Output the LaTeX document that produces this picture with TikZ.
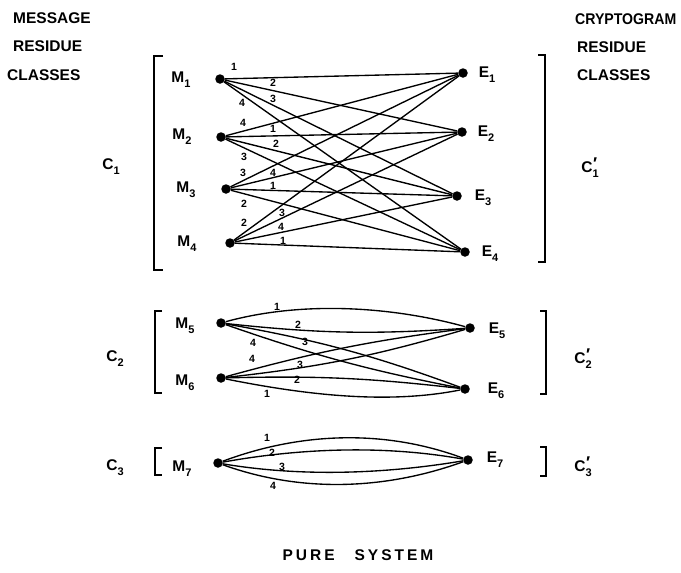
\documentclass[tikz,border=0pt]{standalone}
\usepackage{fontspec}
\setmainfont{Liberation Sans}
\newcommand\sbx[1]{\raisebox{-0.6ex}{\fontsize{11}{11}\selectfont #1}}
\newcommand\prm{\makebox[0pt][l]{\raisebox{0.35ex}{\fontsize{17}{17}\selectfont\kern0.5pt ′}}}
\newcommand\ls{\kern3pt}
\begin{document}
\begin{tikzpicture}[x=1pt,y=1pt,
  dot/.style={circle,fill=black,inner sep=0pt,minimum size=9.5pt},
  lbl/.style={font=\fontsize{15.5}{15.5}\selectfont\bfseries,inner sep=0pt},
  num/.style={font=\fontsize{10.5}{10.5}\selectfont\bfseries,inner sep=0pt},
  link/.style={line width=1.35pt},
  brk/.style={line width=1.4pt}]
\useasboundingbox (0,0) rectangle (681,-573);
% titles
\node[lbl,anchor=west] (t1) at (13,-18.5) {MESSAGE};
\node[lbl,anchor=west] (t2) at (13,-46.5) {RESIDUE};
\node[lbl,anchor=west] (t3) at (7,-75) {CLASSES};
\node[lbl,anchor=west] (t4) at (575,-19) {\scalebox{0.91}[1]{CRYPTOGRAM}};
\node[lbl,anchor=west] (t5) at (577,-47) {RESIDUE};
\node[lbl,anchor=west] (t6) at (577,-75) {CLASSES};
\node[lbl] (ttl) at (358,-555) {P\ls U\ls R\ls E\hspace{20pt}S\ls Y\ls S\ls T\ls E\ls M};
% class labels
\node[lbl] (c1) at (111,-167) {C\sbx{1}};
\node[lbl] (c2) at (115,-359) {C\sbx{2}};
\node[lbl] (c3) at (115,-468) {C\sbx{3}};
\node[lbl] (c1p) at (590,-168) {C\prm\sbx{1}};
\node[lbl] (c2p) at (583,-359) {C\prm\sbx{2}};
\node[lbl] (c3p) at (583,-467) {C\prm\sbx{3}};
% brackets
\draw[brk] (163,-56) -- (154,-56) -- (154,-270) -- (163,-270);
\draw[brk] (538,-55) -- (545,-55) -- (545,-262) -- (538,-262);
\draw[brk] (162,-311) -- (155,-311) -- (155,-393) -- (162,-393);
\draw[brk] (540,-311) -- (546,-311) -- (546,-394) -- (540,-394);
\draw[brk] (162,-448) -- (155,-448) -- (155,-475) -- (162,-475);
\draw[brk] (540,-447) -- (546,-447) -- (546,-476) -- (540,-476);
% dots
\node[dot] (M1) at (220,-79) {};
\node[dot] (M2) at (221,-137) {};
\node[dot] (M3) at (226,-189) {};
\node[dot] (M4) at (230,-243) {};
\node[dot] (E1) at (463,-73) {};
\node[dot] (E2) at (462,-132) {};
\node[dot] (E3) at (457,-196) {};
\node[dot] (E4) at (465,-252) {};
\node[dot] (M5) at (221,-323) {};
\node[dot] (M6) at (221,-378) {};
\node[dot] (E5) at (470,-328) {};
\node[dot] (E6) at (465,-389) {};
\node[dot] (M7) at (218,-463) {};
\node[dot] (E7) at (468,-460) {};
% node names
\node[lbl] (m1) at (181,-80) {M\sbx{1}};
\node[lbl] (m2) at (182,-137) {M\sbx{2}};
\node[lbl] (m3) at (186,-190) {M\sbx{3}};
\node[lbl] (m4) at (187,-244) {M\sbx{4}};
\node[lbl] (m5) at (185,-326) {M\sbx{5}};
\node[lbl] (m6) at (185,-383) {M\sbx{6}};
\node[lbl] (m7) at (182,-469) {M\sbx{7}};
\node[lbl] (e1) at (487,-75) {E\sbx{1}};
\node[lbl] (e2) at (486,-134) {E\sbx{2}};
\node[lbl] (e3) at (483,-198) {E\sbx{3}};
\node[lbl] (e4) at (490,-254) {E\sbx{4}};
\node[lbl] (e5) at (497,-331) {E\sbx{5}};
\node[lbl] (e6) at (496,-391) {E\sbx{6}};
\node[lbl] (e7) at (495,-460) {E\sbx{7}};
% class 1 connectors (complete bipartite)
\foreach \i in {1,...,4}
  \foreach \j in {1,...,4}
    \draw[link] (M\i) -- (E\j);
% class 1 key labels
\node[num] (a11) at (234,-67) {1};
\node[num] (a12) at (273,-83) {2};
\node[num] (a13) at (273,-99) {3};
\node[num] (a14) at (242,-103) {4};
\node[num] (a24) at (243,-123) {4};
\node[num] (a21) at (273,-129) {1};
\node[num] (a22) at (276,-144) {2};
\node[num] (a23) at (244,-157) {3};
\node[num] (a33) at (243,-173) {3};
\node[num] (a34) at (273,-173) {4};
\node[num] (a31) at (273,-186) {1};
\node[num] (a32) at (244,-204) {2};
\node[num] (a42) at (244,-223) {2};
\node[num] (a43) at (282,-213) {3};
\node[num] (a44) at (281,-227) {4};
\node[num] (a41) at (283,-241) {1};
% class 2 connectors
\draw[link] (M5) .. controls +(80,22) and +(-80,22) .. (E5);
\draw[link] (M5) to[bend right=5] (E5);
\draw[link] (M5) to[bend left=5] (E6);
\draw[link] (M5) to[bend right=4] (E6);
\draw[link] (M6) to[bend left=4] (E5);
\draw[link] (M6) to[bend right=5] (E5);
\draw[link] (M6) to[bend left=4] (E6);
\draw[link] (M6) .. controls +(80,-16) and +(-80,-16) .. (E6);
\node[num] (b51) at (277,-307) {1};
\node[num] (b52) at (298,-325) {2};
\node[num] (b53) at (305,-342) {3};
\node[num] (b54) at (253,-343) {4};
\node[num] (b64) at (252,-359) {4};
\node[num] (b63) at (300,-365) {3};
\node[num] (b62) at (297,-380) {2};
\node[num] (b61) at (267,-394) {1};
% class 3 connectors
\draw[link] (M7) .. controls +(83,31) and +(-83,31) .. (E7);
\draw[link] (M7) .. controls +(83,15) and +(-83,15) .. (E7);
\draw[link] (M7) .. controls +(83,-14) and +(-83,-14) .. (E7);
\draw[link] (M7) .. controls +(83,-30) and +(-83,-30) .. (E7);
\node[num] (c71) at (267,-438) {1};
\node[num] (c72) at (272,-453) {2};
\node[num] (c73) at (282,-467) {3};
\node[num] (c74) at (273,-486) {4};
\end{tikzpicture}
\end{document}
